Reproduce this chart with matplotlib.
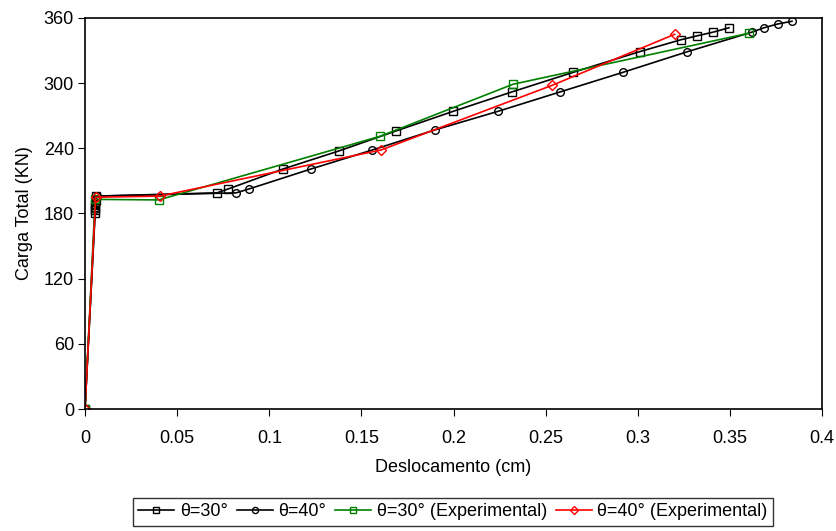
import matplotlib.pyplot as plt

plt.rcParams['font.family'] = ['Liberation Sans', 'DejaVu Sans']

# theta = 30 deg (numerical)
x30 = [0, 0.0055, 0.0055, 0.0055, 0.0055, 0.0058, 0.006, 0.0716, 0.0777, 0.1075, 0.1378,
       0.1688, 0.1997, 0.2318, 0.265, 0.301, 0.3235, 0.332, 0.341, 0.3495]
y30 = [0, 180, 183, 186, 189, 192, 196, 199, 202.6, 221, 237.6,
       256, 274, 292, 310, 329, 340, 343.5, 347, 351]

# theta = 40 deg (numerical)
x40 = [0, 0.0055, 0.006, 0.0065, 0.082, 0.089, 0.1227, 0.156, 0.19, 0.224,
       0.258, 0.292, 0.327, 0.362, 0.3685, 0.376, 0.3837]
y40 = [0, 184, 190, 196, 199, 202.6, 221, 238.5, 257, 274,
       292, 310, 329, 347, 351, 354.5, 357]

# theta = 30 deg (experimental)
x30e = [0, 0.0055, 0.040, 0.160, 0.2323, 0.3604]
y30e = [0, 193, 192.5, 251, 299, 346]

# theta = 40 deg (experimental)
x40e = [0, 0.0058, 0.0405, 0.1607, 0.2535, 0.320]
y40e = [0, 195, 196, 238.5, 298, 345]

fig = plt.figure(figsize=(8.36, 5.31), dpi=100)
ax = fig.add_axes([85 / 836, 1 - 409 / 531, (822 - 85) / 836, (409 - 18) / 531])

ms = 5.5
ax.plot(x30, y30, color='black', marker='s', ms=ms, mfc='none', mew=1, lw=1.2, label='θ=30°')
ax.plot(x40, y40, color='black', marker='o', ms=ms, mfc='none', mew=1, lw=1.2, label='θ=40°')
ax.plot(x30e, y30e, color='green', marker='s', ms=ms, mfc='none', mew=1, lw=1.2,
        label='θ=30° (Experimental)')
ax.plot(x40e, y40e, color='red', marker='D', ms=ms - 0.5, mfc='none', mew=1, lw=1.2,
        label='θ=40° (Experimental)')

ax.set_xlim(0, 0.4)
ax.set_ylim(0, 360)
ax.set_xticks([0, 0.05, 0.1, 0.15, 0.2, 0.25, 0.3, 0.35, 0.4])
ax.set_xticklabels(['0', '0.05', '0.1', '0.15', '0.2', '0.25', '0.3', '0.35', '0.4'])
ax.set_yticks([0, 60, 120, 180, 240, 300, 360])
ax.tick_params(direction='out', length=5, labelsize=13, top=False, right=False)
ax.tick_params(axis='x', pad=10)
ax.tick_params(axis='y', pad=3)
for s in ax.spines.values():
    s.set_linewidth(1.2)

ax.set_xlabel('Deslocamento (cm)', fontsize=13, labelpad=9)
ax.set_ylabel('Carga Total (KN)', fontsize=13, labelpad=8)

leg = fig.legend(loc='center', bbox_to_anchor=(453 / 836, 1 - 512 / 531), ncol=4,
                 fontsize=13, frameon=True, fancybox=False, edgecolor='black',
                 handlelength=2.0, handletextpad=0.3, columnspacing=0.5,
                 borderpad=0.3, markerscale=0.8)
leg.get_frame().set_linewidth(1.0)

fig.savefig('out.png', dpi=100)
